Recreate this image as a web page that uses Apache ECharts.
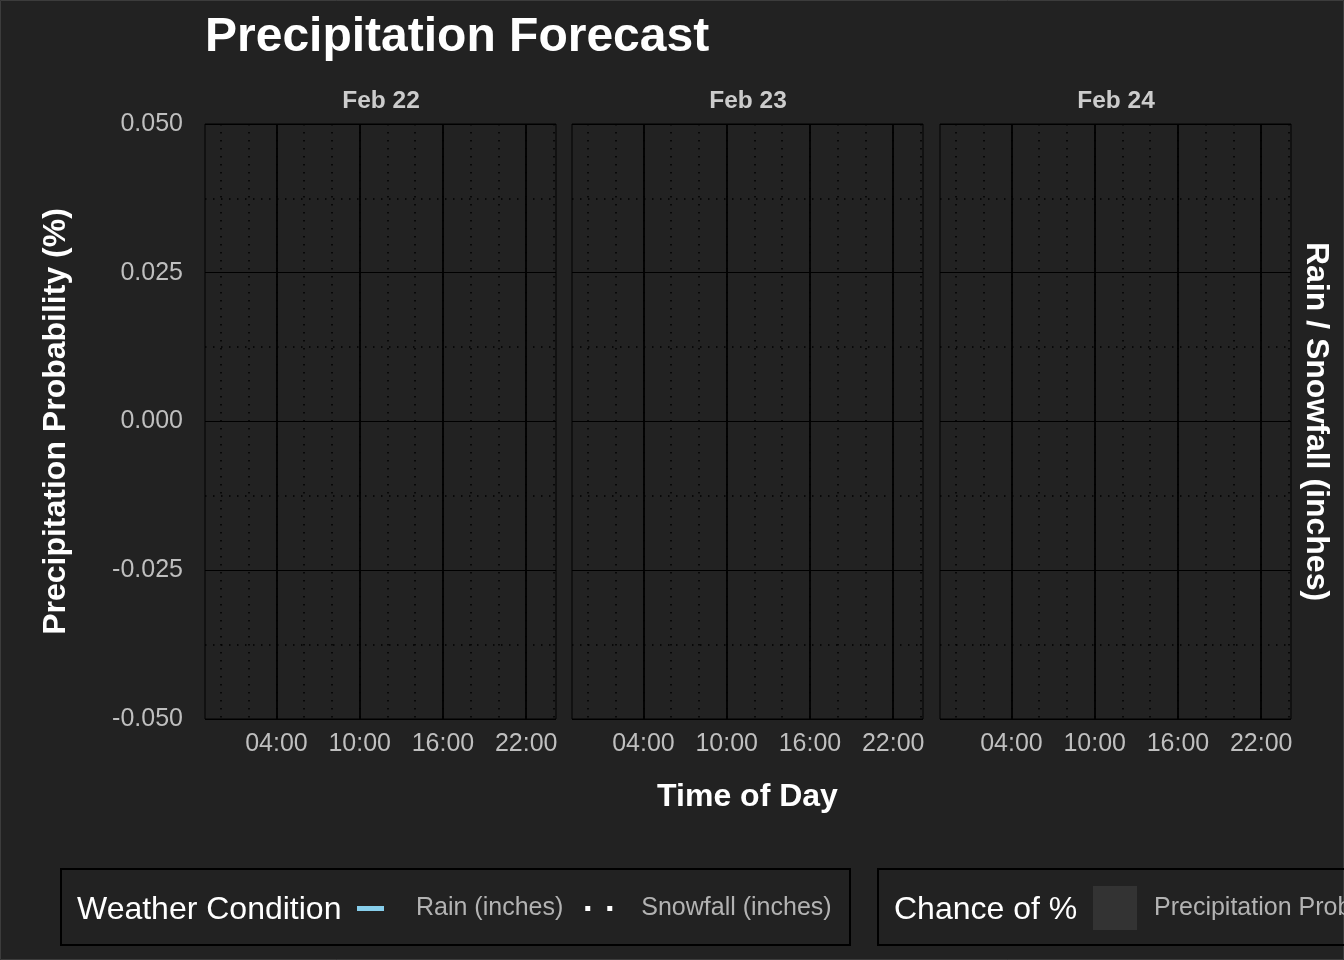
<!DOCTYPE html>
<html>
<head>
<meta charset="utf-8">
<script src="https://cdn.jsdelivr.net/npm/echarts@6/dist/echarts.min.js"></script>
<style>
  html, body { margin: 0; padding: 0; background: #222222; }
  #chart { width: 1344px; height: 960px; }
</style>
</head>
<body>
<div id="chart"></div>
<script>
// ---- data (the reference forecast window contains no plotted readings) ----
const days = ['Feb 22', 'Feb 23', 'Feb 24'];
const hourTicks = [4, 10, 16, 22];
const minorHourTicks = [0, 2, 4, 6, 8, 10, 12, 14, 16, 18, 20, 22, 24];
const hourMin = -1.15;
const hourMax = 24.15;
const yMin = -0.05;
const yMax = 0.05;
const yStep = 0.025;
// per-day series values: [hour, value] pairs (empty: nothing drawn in the reference)
const rainInches = [[], [], []];
const snowInches = [[], [], []];
const precipProb = [[], [], []];

const FONT = 'Liberation Sans, Arial, sans-serif';
const panelLefts = [205, 572, 940];
const panelWidth = 351;
const panelTop = 124;
const panelHeight = 595;

const dotted = { color: '#000', width: 1.5, type: [1.5, 6.5] };
const grids = [], xAxes = [], yAxes = [], series = [], titles = [];

titles.push({
  text: 'Precipitation Forecast', left: 200, top: 9,
  textStyle: { color: '#ffffff', fontFamily: FONT, fontWeight: 'bold', fontSize: 48 }
});

days.forEach((d, i) => {
  grids.push({
    left: panelLefts[i], top: panelTop, width: panelWidth, height: panelHeight,
    show: true, borderColor: '#000', borderWidth: 1, backgroundColor: 'transparent'
  });
  titles.push({
    text: d, left: panelLefts[i] + panelWidth / 2 - 4.5, top: 84, textAlign: 'center',
    textStyle: { color: '#cccccc', fontFamily: FONT, fontWeight: 'bold', fontSize: 24.5 }
  });
  // major x axis
  xAxes.push({
    type: 'value', gridIndex: i, min: hourMin, max: hourMax, z: 2,
    axisLine: { show: false }, axisTick: { show: false, customValues: hourTicks },
    axisLabel: {
      customValues: hourTicks, color: '#bfbfbf', fontFamily: FONT, fontSize: 25, margin: 13,
      formatter: v => String(v).padStart(2, '0') + ':00'
    },
    splitLine: { show: true, lineStyle: { color: '#000', width: 1.8 } },
    name: i === 1 ? 'Time of Day' : '', nameLocation: 'middle', nameGap: 62,
    nameTextStyle: { color: '#ffffff', fontFamily: FONT, fontWeight: 'bold', fontSize: 32 }
  });
  // minor x axis (dotted grid only)
  xAxes.push({
    type: 'value', gridIndex: i, min: hourMin, max: hourMax, z: 1,
    axisLine: { show: false }, axisTick: { show: false, customValues: minorHourTicks },
    axisLabel: { show: false, customValues: minorHourTicks },
    splitLine: { show: true, lineStyle: dotted }
  });
  yAxes.push({
    type: 'value', gridIndex: i, min: yMin, max: yMax, interval: yStep,
    axisLine: { show: false }, axisTick: { show: false },
    minorTick: { show: false, splitNumber: 2 },
    minorSplitLine: { show: true, lineStyle: dotted },
    splitLine: { show: true, lineStyle: { color: '#000', width: 1 } },
    axisLabel: {
      show: i === 0, color: '#bfbfbf', fontFamily: FONT, fontSize: 25, margin: 22,
      padding: [4, 0, 0, 0],
      formatter: v => v.toFixed(3)
    },
    name: i === 0 ? 'Precipitation Probability (%)' : '', nameLocation: 'middle', nameGap: 133,
    nameTextStyle: { color: '#ffffff', fontFamily: FONT, fontWeight: 'bold', fontSize: 32 }
  });
  series.push({
    name: 'Precipitation Probability (%)', type: 'bar', xAxisIndex: i * 2, yAxisIndex: i,
    data: precipProb[i], itemStyle: { color: '#333333' }
  });
  series.push({
    name: 'Rain (inches)', type: 'line', xAxisIndex: i * 2, yAxisIndex: i, symbol: 'none',
    data: rainInches[i], lineStyle: { color: '#87CEEB', width: 2 }, itemStyle: { color: '#87CEEB' }
  });
  series.push({
    name: 'Snowfall (inches)', type: 'line', xAxisIndex: i * 2, yAxisIndex: i, symbol: 'none',
    data: snowInches[i], lineStyle: { color: '#ffffff', width: 2, type: 'dotted' }, itemStyle: { color: '#ffffff' }
  });
});

// secondary (right) axis on last panel
yAxes.push({
  type: 'value', gridIndex: 2, position: 'right', min: yMin, max: yMax, interval: yStep,
  axisLine: { show: false }, axisTick: { show: false }, axisLabel: { show: false },
  splitLine: { show: false },
  name: 'Rain / Snowfall (inches)', nameLocation: 'middle', nameGap: 9, nameRotate: -90,
  nameTextStyle: { color: '#ffffff', fontFamily: FONT, fontWeight: 'bold', fontSize: 32 }
});

const legendText = { color: '#b3b3b3', fontFamily: FONT, fontSize: 25 };

const option = {
  backgroundColor: '#222222',
  animation: false,
  title: titles,
  grid: grids,
  xAxis: xAxes,
  yAxis: yAxes,
  series: series,
  legend: [
    {
      left: 357, top: 896, padding: 0, itemGap: 22, itemWidth: 27, itemHeight: 5,
      textStyle: Object.assign({ padding: [6, 0, 0, 27] }, legendText),
      data: [
        { name: 'Rain (inches)', icon: 'rect', itemStyle: { color: '#87CEEB' } },
        { name: 'Snowfall (inches)', icon: 'path://M0,0h5v5h-5z M22,0h5v5h-5z', itemStyle: { color: '#ffffff' },
          textStyle: Object.assign({ padding: [6, 0, 0, 24] }, legendText) }
      ]
    },
    {
      left: 1093, top: 886, padding: 0, itemWidth: 44, itemHeight: 44,
      textStyle: Object.assign({ padding: [4, 0, 0, 12] }, legendText),
      data: [{ name: 'Precipitation Probability (%)', icon: 'rect', itemStyle: { color: '#333333' } }]
    }
  ],
  graphic: [
    { type: 'rect', shape: { x: 0.5, y: 0.5, width: 1343, height: 959 }, style: { fill: 'none', stroke: '#3c3c3c', lineWidth: 1 }, silent: true },
    { type: 'rect', shape: { x: 61, y: 869, width: 789, height: 76 }, style: { fill: 'none', stroke: '#000', lineWidth: 2 }, silent: true },
    { type: 'rect', shape: { x: 878, y: 869, width: 520, height: 76 }, style: { fill: 'none', stroke: '#000', lineWidth: 2 }, silent: true },
    { type: 'text', left: 77, top: 894, style: { text: 'Weather Condition', fill: '#ffffff', font: '32px ' + FONT }, silent: true },
    { type: 'text', left: 894, top: 894, style: { text: 'Chance of %', fill: '#ffffff', font: '32px ' + FONT }, silent: true }
  ]
};

const chart = echarts.init(document.getElementById('chart'), null, { renderer: 'canvas' });
chart.setOption(option);
</script>
</body>
</html>
